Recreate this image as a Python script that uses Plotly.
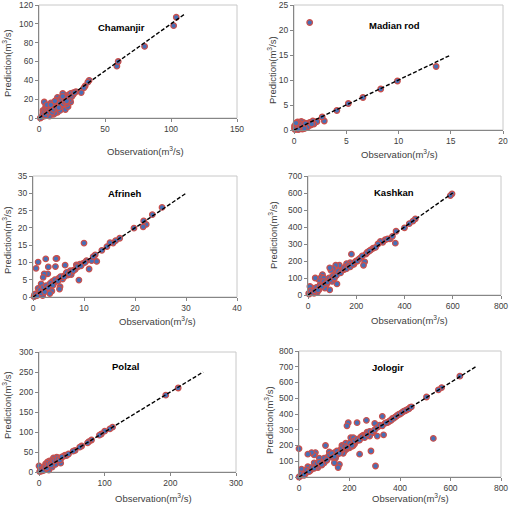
import plotly.graph_objects as go

# ---------------- data ----------------
cham_obs = [104,102,80,59,60,38,37,35,34,32,28,26,25,24,23,22,21,20,19,18,18,17,16,16,15,15,14,14,13,13,12,12,11,11,10,10,9,9,8,8,7,7,6,6,5,5,4,4,4,3,3,2,1,20,22,17,19,13,9,6,11,14,16,21,23,24,8,12,
            3,4,5,5,6,7,7,8,9,10,10,11,12,13,14,15,16,17,18,19,20,21,22,23,24,25,26,27,6,9,12,15,18,21]
cham_pred = [107,98,76,55,60,40,38,34,32,27,28,27,26,22,25,18,20,24,16,26,20,14,18,12,17,10,22,14,12,8,16,10,13,7,11,15,9,5,12,7,10,4,8,3,6,12,17,5,2,3,8,1,0,9,12,22,22,19,16,13,4,6,8,15,20,17,2,5,
             5,7,3,9,10,6,11,13,8,6,12,9,15,11,17,13,16,20,15,18,17,22,21,19,26,23,25,27,14,14,18,11,23,18]

madi_obs = [1.5,13.6,9.9,8.3,6.6,5.2,4.1,2.9,2.7,2.0,1.8,1.6,1.5,1.3,1.2,1.0,0.9,0.8,0.7,0.6,0.5,0.4,0.35,0.3,0.2,0.15,0.1,0.05,0.25,0.45,1.1,1.4,0.7,2.2,1.9,0.6,0.9,0.05,
            0.1,0.3,0.5,0.7,0.9,1.1,1.3,1.6,1.7,0.4,0.2,1.0]
madi_pred = [21.5,12.7,9.8,8.2,6.5,5.3,3.9,1.8,2.6,1.5,1.8,1.0,1.5,1.3,0.8,1.0,1.5,0.2,1.7,0.8,1.2,0.4,1.6,0.2,0.9,0.5,0.1,0.3,1.1,0.6,0.5,0.9,0.3,1.7,1.2,1.3,0.6,0.8,
             0.6,1.0,0.2,1.1,0.9,1.3,0.6,1.4,1.2,0.1,1.4,0.3]

afri_obs = [25.3,23.4,22.2,21.7,21.6,19.8,17,16.2,15.7,15.1,14.5,13.5,12.5,12.2,11.5,11,10.5,10,9.8,9.2,9,8.8,8.5,8,7.7,7.5,7,6.8,6.3,6,5.6,5.3,5.2,5,4.7,4.5,4.4,4.2,4,3.7,3.5,3.3,3.0,2.9,2.8,2.5,2.4,2.2,2.0,1.8,1.6,1.5,1.2,1.0,1.0,0.8,0.6,0.5,0.3,0.2,3.8,2.6,1.9,6.5,5.8,7.3,8.3,4.8,3.2,2.1,1.3,
            0.5,0.8,1.2,1.4,1.7,2.0,2.3,2.6,3.0,3.4,3.9,4.3,4.9,5.4,6.1,6.6,7.1,7.9,8.7,9.4,10.2,11.8]
afri_pred = [25.9,23.8,21,22,20.3,19.9,17,16.3,15.6,15.7,14.6,13.5,10.3,12.2,10.5,8.1,10.5,15.6,9.7,9.5,4.9,8.7,9.3,7.8,7.5,6.5,7,6.3,9.2,6,5.5,3,2.3,5.4,11.2,11.1,8.8,4.3,3.8,1.7,3.5,1.0,8.7,6.7,3,11,2.2,6.7,5.7,1.8,3.8,1.2,0.8,10.1,2.5,1.0,8.3,0.3,0.7,0.1,4.5,2.8,0.4,6.8,5.2,7.6,8.0,4.9,3.4,2.3,1.5,
             0.9,0.4,1.6,2.0,1.1,2.8,1.5,3.3,2.7,4.0,3.4,5.0,4.6,5.9,5.8,7.1,6.7,7.6,8.9,9.0,10.0,11.7]

kash_obs = [597,590,445,435,420,400,365,362,340,310,300,290,270,260,250,240,235,230,220,210,200,190,180,175,170,160,155,150,140,130,125,120,115,110,105,100,95,90,90,85,80,75,70,65,60,55,50,45,40,35,30,30,25,20,15,10,8,5,3,60,70,100,105,48,38,25,12,55,45,80,65,
            20,28,35,42,50,58,65,72,80,88,95,102,110,118,125,135,145,150,160,168,175,185,195,205,215,225,245,255,280,320,330,350]
kash_pred = [595,585,448,435,420,395,375,305,330,310,315,300,275,265,255,240,195,175,220,210,200,180,240,190,175,185,165,150,145,175,135,65,175,120,155,105,145,160,30,95,90,60,85,70,120,75,60,90,45,35,100,20,30,40,15,20,50,5,10,55,40,80,95,50,15,10,25,105,30,70,100,
             15,25,45,30,55,50,80,65,75,100,90,110,100,115,140,130,150,160,155,175,165,180,195,200,215,230,250,260,280,325,330,345]

polz_obs = [212,193,112,108,100,95,92,80,76,74,65,62,55,52,40,38,34,30,28,27,25,24,22,20,19,18,17,16,15,14,13,12,11,10,9,8,7,6,5,4,3,2,0,1,15,25,31,33,20,10,5,
            3,6,9,12,14,17,19,21,23,26,29,32,35,42,45]
polz_pred = [210,192,112,108,102,95,92,80,76,73,65,62,54,52,42,40,35,35,27,37,25,30,35,22,27,20,15,28,17,12,25,14,9,20,10,5,11,7,3,5,2,3,15,1,5,19,27,22,12,15,8,
             5,4,12,10,20,22,17,30,28,31,33,30,38,41,45]

jolo_obs = [637,565,552,505,532,440,430,420,410,400,390,380,370,360,355,350,340,335,330,320,310,303,300,295,290,285,280,270,267,260,255,250,245,240,235,230,225,220,215,210,200,195,190,187,185,180,175,170,165,160,155,150,145,140,130,120,115,110,105,100,95,90,85,80,75,70,65,60,55,50,45,40,35,30,25,20,15,10,5,0,0,205,215,178,163,140,125,60,35,20,
            10,20,30,40,50,60,70,80,90,100,110,120,130,140,150,160,170,180,190,200,210,220,230,240,250,260,270,280,290,300,310,320,330,345,365,375,385,395,405,415,425,435,445]
jolo_pred = [640,568,553,508,245,442,430,420,412,400,392,380,372,358,350,345,340,268,385,325,260,70,340,290,280,165,260,285,360,255,265,260,255,145,235,345,225,210,200,195,185,345,325,175,215,165,150,200,160,80,60,140,120,155,125,160,130,105,200,90,110,75,85,120,60,70,155,140,55,155,40,60,145,30,20,40,15,50,5,180,0,250,250,180,170,90,140,90,65,10,
             20,15,45,35,60,55,85,95,80,120,110,140,150,130,165,150,185,195,190,215,200,230,240,235,255,250,270,290,285,300,315,330,325,345,360,372,385,398,405,418,425,432,445]

names = ["Chamanjir", "Madian rod", "Afrineh", "Kashkan", "Polzal", "Jologir"]
obs_sets = [cham_obs, madi_obs, afri_obs, kash_obs, polz_obs, jolo_obs]
pred_sets = [cham_pred, madi_pred, afri_pred, kash_pred, polz_pred, jolo_pred]
line_max = [110, 15, 30, 600, 250, 700]
x_ranges = [(150, 50), (20, 5), (40, 10), (800, 200), (300, 100), (800, 200)]
y_ranges = [(120, 20), (25, 5), (35, 5), (700, 100), (300, 50), (800, 100)]

# ---------------- layout geometry (pixels) ----------------
W, H = 510, 507
# left, right, top, bottom of each plot area
boxes = [(39, 237, 5, 118), (294, 503, 5, 130),
         (33, 237, 176, 297), (308, 501, 176, 295),
         (39, 236, 352, 472), (299, 501, 351, 477)]
name_pos = [(121, 27), (394, 25), (124, 194), (394, 193), (125, 366), (388, 367)]
xt_pos = [(145, 151), (399, 154), (157, 321), (409, 320), (153, 498), (410, 498)]
yt_pos = [(7, 63), (272, 70), (7, 240), (273, 235), (7, 405), (269, 420)]

FONT = "Liberation Sans"
TXT = "#404040"

fig = go.Figure()
layout = dict(width=W, height=H, margin=dict(l=0, r=0, t=0, b=0, autoexpand=False),
              paper_bgcolor="white", plot_bgcolor="white", showlegend=False,
              font=dict(family=FONT, size=9, color=TXT))
annotations = []
shapes = []

for i in range(6):
    n = i + 1
    xa = "x" if n == 1 else f"x{n}"
    ya = "y" if n == 1 else f"y{n}"
    l, r, t, b = boxes[i]
    xmax, xd = x_ranges[i]
    ymax, yd = y_ranges[i]
    common = dict(showgrid=False, zeroline=False, showline=True, linecolor="#868686",
                  ticks="outside", ticklen=3, tickcolor="#868686", automargin=False,
                  ticklabeloverflow="allow", tick0=0,
                  tickfont=dict(size=8.5, color=TXT, family=FONT))
    layout[f"xaxis{'' if n == 1 else n}"] = dict(
        domain=[l / W, r / W], anchor=ya, range=[0, xmax], dtick=xd, **common)
    layout[f"yaxis{'' if n == 1 else n}"] = dict(
        domain=[1 - b / H, 1 - t / H], anchor=xa, range=[0, ymax], dtick=yd, **common)
    shapes.append(dict(type="rect", xref=f"{xa} domain", yref=f"{ya} domain",
                       x0=0, x1=1, y0=0, y1=1, line=dict(color="#C8C8C8", width=1),
                       layer="below"))
    fig.add_trace(go.Scatter(
        x=obs_sets[i], y=pred_sets[i], mode="markers", xaxis=xa, yaxis=ya,
        marker=dict(size=5.5, color="#4570B8", line=dict(color="#C8504D", width=1.3)),
        cliponaxis=False))
    fig.add_trace(go.Scatter(
        x=[0, line_max[i]], y=[0, line_max[i]], mode="lines", xaxis=xa, yaxis=ya,
        line=dict(color="black", width=1.4, dash="4px,2px")))
    nx, ny = name_pos[i]
    annotations.append(dict(text=f"<b>{names[i]}</b>", x=nx / W, y=1 - ny / H,
                            xref="paper", yref="paper", showarrow=False,
                            xanchor="center", yanchor="middle",
                            font=dict(size=9.5, color="black", family=FONT)))
    tx, ty = xt_pos[i]
    annotations.append(dict(text="Observation(m<sup>3</sup>/s)", x=tx / W, y=1 - ty / H,
                            xref="paper", yref="paper", showarrow=False,
                            xanchor="center", yanchor="middle",
                            font=dict(size=9.5, color=TXT, family=FONT)))
    yx, yy = yt_pos[i]
    annotations.append(dict(text="Prediction(m<sup>3</sup>/s)", x=yx / W, y=1 - yy / H,
                            xref="paper", yref="paper", showarrow=False, textangle=-90,
                            xanchor="center", yanchor="middle",
                            font=dict(size=9.5, color=TXT, family=FONT)))

layout["annotations"] = annotations
layout["shapes"] = shapes
fig.update_layout(**layout)
fig.write_html("out.html", config={"displayModeBar": False},
               post_script="document.body.style.margin='0px';")
